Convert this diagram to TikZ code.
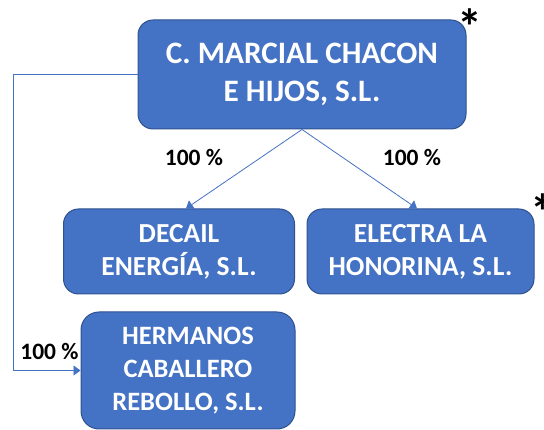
\documentclass[tikz,border=0pt]{standalone}
\usepackage{fontspec}
\setmainfont{Carlito}
\usetikzlibrary{arrows.meta}
\definecolor{boxfill}{HTML}{4472C4}
\definecolor{boxedge}{HTML}{2F528F}
\begin{document}
\begin{tikzpicture}[x=1pt,y=-1pt,
  company/.style={draw=boxedge, line width=1pt, fill=boxfill, rounded corners=15pt,
    text=white, align=center, inner sep=0pt},
  bigtext/.style={font=\bfseries\fontsize{31.2}{38}\selectfont},
  midtext/.style={font=\bfseries\fontsize{27.5}{33}\selectfont},
  lowtext/.style={font=\bfseries\fontsize{26.5}{33}\selectfont},
  link/.style={draw=boxfill, line width=0.8pt, -{Triangle[length=7pt,width=10pt]}},
  pct/.style={font=\bfseries\fontsize{23.5}{28}\selectfont, inner sep=0pt},
  star/.style={font=\bfseries\fontsize{50}{50}\selectfont, inner sep=0pt}]
\useasboundingbox (0,0) rectangle (544,430);
\node[company, bigtext, minimum width=328pt, minimum height=109pt] (top) at (302,74.5) {C. MARCIAL CHACON\\E HIJOS, S.L.};
\node[company, midtext, minimum width=231pt, minimum height=85pt] (decail) at (179,251.5) {DECAIL\\ENERGÍA, S.L.};
\node[company, midtext, minimum width=227pt, minimum height=85pt] (electra) at (420.5,251.5) {ELECTRA LA\\HONORINA, S.L.};
\node[company, lowtext, minimum width=214pt, minimum height=117pt, rounded corners=18pt] (herm) at (188,370.5) {HERMANOS\\CABALLERO\\REBOLLO, S.L.};
\node[star] (s1) at (470,27) {*};
\node[star] (s2) at (543,212) {*};
\node[pct] (p1) at (194,157.5) {100 \%};
\node[pct] (p2) at (412,157.5) {100 \%};
\node[pct] (p3) at (49.5,351.5) {100 \%};
\coordinate (c1) at (13,74.5);
\coordinate (c2) at (13,370.5);
\draw[link] (top.south) -- ([xshift=7pt]decail.north);
\draw[link] (top.south) -- ([xshift=-3.5pt]electra.north);
\draw[link] (top.west) -- (c1) -- (c2) -- (herm.west);
\end{tikzpicture}
\end{document}
